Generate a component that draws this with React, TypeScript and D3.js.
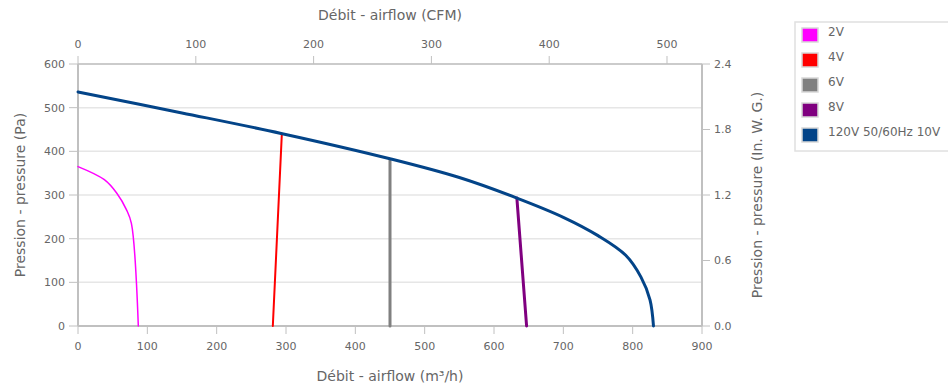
import React from "react";
import * as d3 from "d3";

const W = 948;
const H = 386;

// Data (m³/h, Pa)
const series2VFlow = [0, 38, 56, 70, 77, 87];
const series2VPressure = [365, 335, 304, 266, 235, 0];
const series4VFlow = [281, 294];
const series4VPressure = [0, 440];
const series6VFlow = [450, 450];
const series6VPressure = [0, 382];
const series8VFlow = [647, 633];
const series8VPressure = [0, 293];
const series10VFlow = [0, 150, 293, 450, 550, 633, 700, 750, 790, 812, 825, 830];
const series10VPressure = [536, 488, 441, 383, 340, 293, 249, 207, 162, 112, 60, 0];

const seriesNames = ["2V", "4V", "6V", "8V", "120V 50/60Hz 10V"];
const seriesColors = ["#ff00ff", "#ff0000", "#808080", "#800080", "#034488"];
const seriesWidths = [1.5, 2, 3, 3, 3];

const bottomTicks = [0, 100, 200, 300, 400, 500, 600, 700, 800, 900];
const topTicks = [0, 100, 200, 300, 400, 500];
const leftTicks = [0, 100, 200, 300, 400, 500, 600];
const rightTicks = [0, 0.6, 1.2, 1.8, 2.4];

const M3H_PER_CFM = 1.699;

const plot = { left: 78, right: 702, top: 64, bottom: 326 };
const FONT = "DejaVu Sans, Verdana, sans-serif";
const TXT = "#666";
const AXIS = "#c0c0c0";
const GRID = "#e6e6e6";

export default function App() {
  const x = d3.scaleLinear().domain([0, 900]).range([plot.left, plot.right]);
  const xTop = d3.scaleLinear().domain([0, 900 / M3H_PER_CFM]).range([plot.left, plot.right]);
  const y = d3.scaleLinear().domain([0, 600]).range([plot.bottom, plot.top]);
  const yRight = d3.scaleLinear().domain([0, 2.4]).range([plot.bottom, plot.top]);

  const flows = [series2VFlow, series4VFlow, series6VFlow, series8VFlow, series10VFlow];
  const pressures = [series2VPressure, series4VPressure, series6VPressure, series8VPressure, series10VPressure];

  const line = d3
    .line<[number, number]>()
    .x((d) => x(d[0]))
    .y((d) => y(d[1]))
    .curve(d3.curveCatmullRom.alpha(0.5));

  const paths = flows.map((f, i) => {
    const pts: [number, number][] = f.map((v, j) => [v, pressures[i][j]]);
    return line(pts);
  });

  const legendX = 795;
  const legendY = 22;

  return (
    <svg
      width={W}
      height={H}
      style={{ position: "absolute", left: 0, top: 0, background: "#fff" }}
      fontFamily={FONT}
    >
      {/* grid */}
      {leftTicks.map((t) => (
        <line key={"g" + t} x1={plot.left} x2={plot.right} y1={y(t)} y2={y(t)} stroke={GRID} strokeWidth={1.5} />
      ))}
      {/* axis lines */}
      <line x1={plot.left} x2={plot.right} y1={plot.top} y2={plot.top} stroke={AXIS} strokeWidth={1.5} />
      <line x1={plot.left} x2={plot.right} y1={plot.bottom} y2={plot.bottom} stroke={AXIS} strokeWidth={2} />
      <line x1={plot.left} x2={plot.left} y1={plot.top} y2={plot.bottom} stroke={AXIS} strokeWidth={2} />
      <line x1={plot.right} x2={plot.right} y1={plot.top} y2={plot.bottom} stroke={AXIS} strokeWidth={2} />

      {/* bottom axis */}
      {bottomTicks.map((t) => (
        <g key={"b" + t}>
          <line x1={x(t)} x2={x(t)} y1={plot.bottom} y2={plot.bottom + 8} stroke={AXIS} strokeWidth={1} />
          <text x={x(t)} y={plot.bottom + 24} textAnchor="middle" fontSize={11} fill={TXT}>
            {t}
          </text>
        </g>
      ))}
      {/* top axis */}
      {topTicks.map((t) => (
        <g key={"t" + t}>
          <line x1={xTop(t)} x2={xTop(t)} y1={plot.top - 8} y2={plot.top} stroke={AXIS} strokeWidth={1} />
          <text x={xTop(t)} y={plot.top - 16} textAnchor="middle" fontSize={11} fill={TXT}>
            {t}
          </text>
        </g>
      ))}
      {/* left axis */}
      {leftTicks.map((t) => (
        <g key={"l" + t}>
          <line x1={plot.left - 9} x2={plot.left} y1={y(t)} y2={y(t)} stroke={AXIS} strokeWidth={1} />
          <text x={plot.left - 13} y={y(t)} dy="0.35em" textAnchor="end" fontSize={11} fill={TXT}>
            {t}
          </text>
        </g>
      ))}
      {/* right axis */}
      {rightTicks.map((t) => (
        <g key={"r" + t}>
          <line x1={plot.right} x2={plot.right + 8} y1={yRight(t)} y2={yRight(t)} stroke={AXIS} strokeWidth={1} />
          <text x={plot.right + 12} y={yRight(t)} dy="0.35em" textAnchor="start" fontSize={11} fill={TXT}>
            {d3.format(".1f")(t)}
          </text>
        </g>
      ))}

      {/* titles */}
      <text x={(plot.left + plot.right) / 2} y={20} textAnchor="middle" fontSize={14} fill={TXT}>
        Débit - airflow (CFM)
      </text>
      <text x={(plot.left + plot.right) / 2} y={381} textAnchor="middle" fontSize={14} fill={TXT}>
        Débit - airflow (m³/h)
      </text>
      <text
        transform={`translate(25,${(plot.top + plot.bottom) / 2}) rotate(-90)`}
        textAnchor="middle"
        fontSize={14}
        fill={TXT}
      >
        Pression - pressure (Pa)
      </text>
      <text
        transform={`translate(762,${(plot.top + plot.bottom) / 2}) rotate(-90)`}
        textAnchor="middle"
        fontSize={14}
        fill={TXT}
      >
        Pression - pressure (In. W. G.)
      </text>

      {/* series */}
      {paths.map((d, i) => (
        <path
          key={"s" + i}
          d={d || ""}
          fill="none"
          stroke={seriesColors[i]}
          strokeWidth={seriesWidths[i]}
          strokeLinejoin="round"
          strokeLinecap="round"
        />
      ))}

      {/* legend */}
      <rect x={legendX} y={legendY} width={170} height={129} fill="#fff" stroke="#e0e0e0" strokeWidth={1.5} />
      {seriesNames.map((n, i) => (
        <g key={"lg" + i} transform={`translate(${legendX + 7},${legendY + 6 + i * 25})`}>
          <rect x={0} y={0} width={16} height={14} fill={seriesColors[i]} stroke="#d8d8d8" strokeWidth={1.5} />
          <text x={26} y={8} fontSize={12} fill={TXT}>
            {n}
          </text>
        </g>
      ))}
    </svg>
  );
}
